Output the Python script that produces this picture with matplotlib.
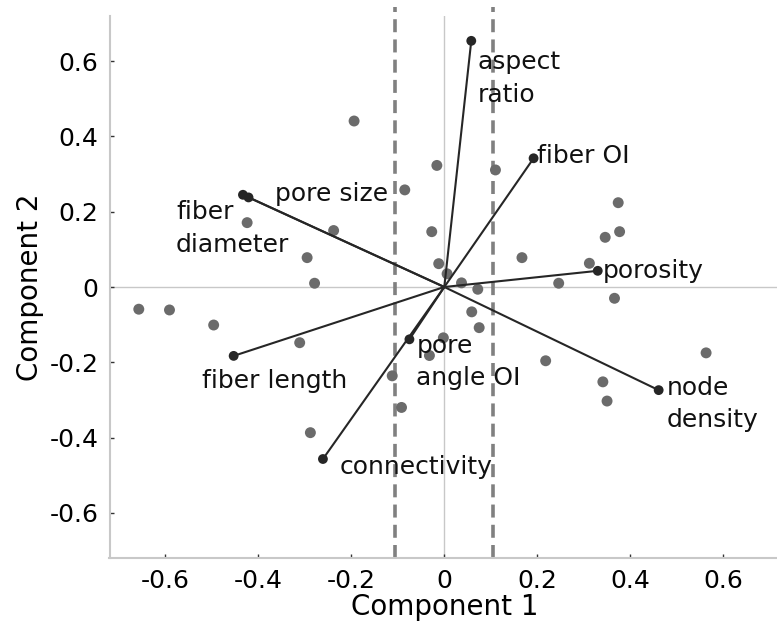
import numpy as np
import matplotlib
matplotlib.use('Agg')
import matplotlib.pyplot as plt

plt.rcParams['font.family'] = ['DejaVu Sans']
plt.rcParams['axes.unicode_minus'] = False

# PCA scores (observations)
score_x = [-0.194, -0.424, -0.238, -0.295, -0.279, -0.657, -0.591, -0.496,
           -0.311, -0.288, -0.112, -0.016, 0.110, -0.085, -0.027, -0.012,
           0.006, 0.037, 0.072, 0.059, 0.167, 0.246, 0.312, 0.346, 0.377,
           0.374, 0.366, 0.075, -0.002, -0.032, -0.092, 0.218, 0.341,
           0.350, 0.563]
score_y = [0.441, 0.171, 0.150, 0.078, 0.010, -0.059, -0.061, -0.101,
           -0.148, -0.387, -0.236, 0.323, 0.311, 0.258, 0.147, 0.062,
           0.035, 0.011, -0.006, -0.066, 0.078, 0.010, 0.063, 0.132, 0.147,
           0.224, -0.030, -0.108, -0.135, -0.182, -0.320, -0.196, -0.252,
           -0.303, -0.175]

# PCA loadings (variables)
var_names = ['aspect\nratio', 'fiber OI', 'porosity', 'node\ndensity',
             'pore\nangle OI', 'connectivity', 'fiber length',
             'fiber\ndiameter', 'pore size']
load_x = [0.058, 0.192, 0.330, 0.461, -0.075, -0.261, -0.453, -0.433, -0.421]
load_y = [0.654, 0.342, 0.043, -0.274, -0.139, -0.457, -0.183, 0.245, 0.238]

# offset (pixels) from each loading tip to the baseline of the label's last line
label_off = [(6, -61), (3, -5), (5, -7), (8, -37), (7, -46), (17, -15),
             (-32, -32), (-67, -57), (26, -4)]

cut = 0.105
ticks = [-0.6, -0.4, -0.2, 0, 0.2, 0.4, 0.6]
tick_labels = ['-0.6', '-0.4', '-0.2', '0', '0.2', '0.4', '0.6']

fig = plt.figure(figsize=(7.77, 6.32), dpi=100)
ax = fig.add_axes([109.5 / 777, 74 / 632, 669.6 / 777, 542 / 632])
ax.set_xlim(-0.72, 0.72)
ax.set_ylim(-0.72, 0.72)

light = '#c8c8c8'
ax.axhline(0, color=light, lw=1, zorder=1)
ax.axvline(0, color=light, lw=1, zorder=1)

for c in (-cut, cut):
    ax.plot([c, c], [-0.72, 0.745], color='#808080', lw=2.6,
            dashes=(3.6, 2.0), clip_on=False, zorder=2)

ax.scatter(score_x, score_y, s=62, color='#6b6b6b', edgecolors='none', zorder=3)

for x, y in zip(load_x, load_y):
    ax.plot([0, x], [0, y], color='#262626', lw=1.5, zorder=4)
ax.scatter(load_x, load_y, s=50, color='#262626', edgecolors='none', zorder=5)

for name, x, y, off in zip(var_names, load_x, load_y, label_off):
    ax.annotate(name, (x, y), xytext=off, textcoords='offset pixels',
                ha='left', va='baseline', fontsize=18, color='#111111',
                linespacing=1.45, zorder=6)

ax.set_xticks(ticks)
ax.set_xticklabels(tick_labels)
ax.set_yticks(ticks)
ax.set_yticklabels(tick_labels)
ax.tick_params(direction='in', length=3, width=1, color='#333333',
               labelsize=18, pad=8)

for side in ('top', 'right'):
    ax.spines[side].set_visible(False)
for side in ('left', 'bottom'):
    ax.spines[side].set_color(light)
    ax.spines[side].set_linewidth(1.5)

ax.set_xlabel('Component 1', fontsize=20, labelpad=0)
ax.set_ylabel('Component 2', fontsize=20, labelpad=4)

fig.savefig('out.png', dpi=100)
